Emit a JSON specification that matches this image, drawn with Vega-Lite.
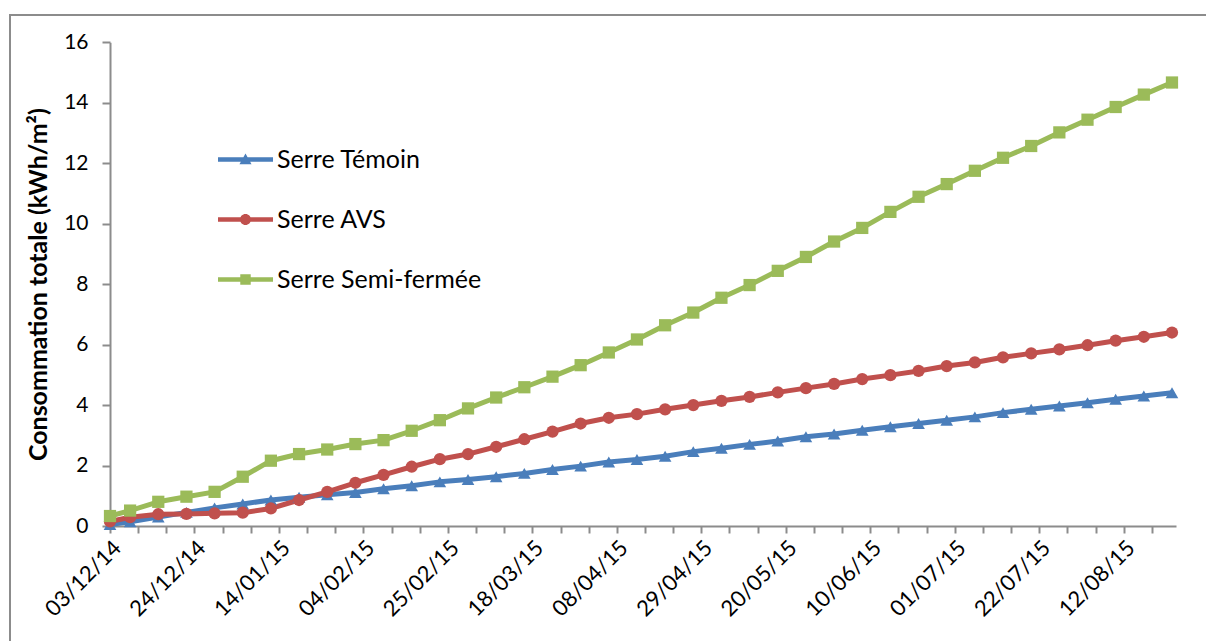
{
  "$schema": "https://vega.github.io/schema/vega-lite/v6.json",
  "autosize": {"type": "none"},
  "width": 1200,
  "height": 630,
  "padding": {"left": 10, "top": 15, "right": -4, "bottom": -4},
  "background": "white",
  "config": {
    "view": {"stroke": "#8c8c8c", "strokeWidth": 2},
    "font": "Lato"
  },
  "data": {"values": [
    {"date": "2014-12-03", "series": "Serre Témoin", "value": 0.05},
    {"date": "2014-12-08", "series": "Serre Témoin", "value": 0.14},
    {"date": "2014-12-15", "series": "Serre Témoin", "value": 0.30},
    {"date": "2014-12-22", "series": "Serre Témoin", "value": 0.45},
    {"date": "2014-12-29", "series": "Serre Témoin", "value": 0.60},
    {"date": "2015-01-05", "series": "Serre Témoin", "value": 0.73},
    {"date": "2015-01-12", "series": "Serre Témoin", "value": 0.86},
    {"date": "2015-01-19", "series": "Serre Témoin", "value": 0.95},
    {"date": "2015-01-26", "series": "Serre Témoin", "value": 1.03},
    {"date": "2015-02-02", "series": "Serre Témoin", "value": 1.11},
    {"date": "2015-02-09", "series": "Serre Témoin", "value": 1.23},
    {"date": "2015-02-16", "series": "Serre Témoin", "value": 1.33},
    {"date": "2015-02-23", "series": "Serre Témoin", "value": 1.46},
    {"date": "2015-03-02", "series": "Serre Témoin", "value": 1.54},
    {"date": "2015-03-09", "series": "Serre Témoin", "value": 1.63},
    {"date": "2015-03-16", "series": "Serre Témoin", "value": 1.74},
    {"date": "2015-03-23", "series": "Serre Témoin", "value": 1.87},
    {"date": "2015-03-30", "series": "Serre Témoin", "value": 1.98},
    {"date": "2015-04-06", "series": "Serre Témoin", "value": 2.12},
    {"date": "2015-04-13", "series": "Serre Témoin", "value": 2.20},
    {"date": "2015-04-20", "series": "Serre Témoin", "value": 2.31},
    {"date": "2015-04-27", "series": "Serre Témoin", "value": 2.46},
    {"date": "2015-05-04", "series": "Serre Témoin", "value": 2.57},
    {"date": "2015-05-11", "series": "Serre Témoin", "value": 2.70},
    {"date": "2015-05-18", "series": "Serre Témoin", "value": 2.81},
    {"date": "2015-05-25", "series": "Serre Témoin", "value": 2.95},
    {"date": "2015-06-01", "series": "Serre Témoin", "value": 3.04},
    {"date": "2015-06-08", "series": "Serre Témoin", "value": 3.17},
    {"date": "2015-06-15", "series": "Serre Témoin", "value": 3.28},
    {"date": "2015-06-22", "series": "Serre Témoin", "value": 3.39},
    {"date": "2015-06-29", "series": "Serre Témoin", "value": 3.50},
    {"date": "2015-07-06", "series": "Serre Témoin", "value": 3.61},
    {"date": "2015-07-13", "series": "Serre Témoin", "value": 3.75},
    {"date": "2015-07-20", "series": "Serre Témoin", "value": 3.86},
    {"date": "2015-07-27", "series": "Serre Témoin", "value": 3.97},
    {"date": "2015-08-03", "series": "Serre Témoin", "value": 4.08},
    {"date": "2015-08-10", "series": "Serre Témoin", "value": 4.19},
    {"date": "2015-08-17", "series": "Serre Témoin", "value": 4.30},
    {"date": "2015-08-24", "series": "Serre Témoin", "value": 4.41},
    {"date": "2014-12-03", "series": "Serre AVS", "value": 0.15},
    {"date": "2014-12-08", "series": "Serre AVS", "value": 0.29},
    {"date": "2014-12-15", "series": "Serre AVS", "value": 0.39},
    {"date": "2014-12-22", "series": "Serre AVS", "value": 0.40},
    {"date": "2014-12-29", "series": "Serre AVS", "value": 0.42},
    {"date": "2015-01-05", "series": "Serre AVS", "value": 0.44},
    {"date": "2015-01-12", "series": "Serre AVS", "value": 0.58},
    {"date": "2015-01-19", "series": "Serre AVS", "value": 0.86},
    {"date": "2015-01-26", "series": "Serre AVS", "value": 1.13},
    {"date": "2015-02-02", "series": "Serre AVS", "value": 1.43},
    {"date": "2015-02-09", "series": "Serre AVS", "value": 1.69},
    {"date": "2015-02-16", "series": "Serre AVS", "value": 1.96},
    {"date": "2015-02-23", "series": "Serre AVS", "value": 2.21},
    {"date": "2015-03-02", "series": "Serre AVS", "value": 2.38},
    {"date": "2015-03-09", "series": "Serre AVS", "value": 2.62},
    {"date": "2015-03-16", "series": "Serre AVS", "value": 2.87},
    {"date": "2015-03-23", "series": "Serre AVS", "value": 3.12},
    {"date": "2015-03-30", "series": "Serre AVS", "value": 3.39},
    {"date": "2015-04-06", "series": "Serre AVS", "value": 3.58},
    {"date": "2015-04-13", "series": "Serre AVS", "value": 3.70},
    {"date": "2015-04-20", "series": "Serre AVS", "value": 3.86},
    {"date": "2015-04-27", "series": "Serre AVS", "value": 4.00},
    {"date": "2015-05-04", "series": "Serre AVS", "value": 4.14},
    {"date": "2015-05-11", "series": "Serre AVS", "value": 4.27},
    {"date": "2015-05-18", "series": "Serre AVS", "value": 4.42},
    {"date": "2015-05-25", "series": "Serre AVS", "value": 4.56},
    {"date": "2015-06-01", "series": "Serre AVS", "value": 4.70},
    {"date": "2015-06-08", "series": "Serre AVS", "value": 4.86},
    {"date": "2015-06-15", "series": "Serre AVS", "value": 4.99},
    {"date": "2015-06-22", "series": "Serre AVS", "value": 5.13},
    {"date": "2015-06-29", "series": "Serre AVS", "value": 5.29},
    {"date": "2015-07-06", "series": "Serre AVS", "value": 5.41},
    {"date": "2015-07-13", "series": "Serre AVS", "value": 5.58},
    {"date": "2015-07-20", "series": "Serre AVS", "value": 5.71},
    {"date": "2015-07-27", "series": "Serre AVS", "value": 5.84},
    {"date": "2015-08-03", "series": "Serre AVS", "value": 5.98},
    {"date": "2015-08-10", "series": "Serre AVS", "value": 6.13},
    {"date": "2015-08-17", "series": "Serre AVS", "value": 6.26},
    {"date": "2015-08-24", "series": "Serre AVS", "value": 6.40},
    {"date": "2014-12-03", "series": "Serre Semi-fermée", "value": 0.33},
    {"date": "2014-12-08", "series": "Serre Semi-fermée", "value": 0.51},
    {"date": "2014-12-15", "series": "Serre Semi-fermée", "value": 0.80},
    {"date": "2014-12-22", "series": "Serre Semi-fermée", "value": 0.97},
    {"date": "2014-12-29", "series": "Serre Semi-fermée", "value": 1.13},
    {"date": "2015-01-05", "series": "Serre Semi-fermée", "value": 1.63},
    {"date": "2015-01-12", "series": "Serre Semi-fermée", "value": 2.16},
    {"date": "2015-01-19", "series": "Serre Semi-fermée", "value": 2.38},
    {"date": "2015-01-26", "series": "Serre Semi-fermée", "value": 2.53},
    {"date": "2015-02-02", "series": "Serre Semi-fermée", "value": 2.71},
    {"date": "2015-02-09", "series": "Serre Semi-fermée", "value": 2.84},
    {"date": "2015-02-16", "series": "Serre Semi-fermée", "value": 3.15},
    {"date": "2015-02-23", "series": "Serre Semi-fermée", "value": 3.50},
    {"date": "2015-03-02", "series": "Serre Semi-fermée", "value": 3.89},
    {"date": "2015-03-09", "series": "Serre Semi-fermée", "value": 4.25},
    {"date": "2015-03-16", "series": "Serre Semi-fermée", "value": 4.59},
    {"date": "2015-03-23", "series": "Serre Semi-fermée", "value": 4.94},
    {"date": "2015-03-30", "series": "Serre Semi-fermée", "value": 5.32},
    {"date": "2015-04-06", "series": "Serre Semi-fermée", "value": 5.74},
    {"date": "2015-04-13", "series": "Serre Semi-fermée", "value": 6.17},
    {"date": "2015-04-20", "series": "Serre Semi-fermée", "value": 6.64},
    {"date": "2015-04-27", "series": "Serre Semi-fermée", "value": 7.06},
    {"date": "2015-05-04", "series": "Serre Semi-fermée", "value": 7.55},
    {"date": "2015-05-11", "series": "Serre Semi-fermée", "value": 7.97},
    {"date": "2015-05-18", "series": "Serre Semi-fermée", "value": 8.44},
    {"date": "2015-05-25", "series": "Serre Semi-fermée", "value": 8.90},
    {"date": "2015-06-01", "series": "Serre Semi-fermée", "value": 9.41},
    {"date": "2015-06-08", "series": "Serre Semi-fermée", "value": 9.86},
    {"date": "2015-06-15", "series": "Serre Semi-fermée", "value": 10.39},
    {"date": "2015-06-22", "series": "Serre Semi-fermée", "value": 10.89},
    {"date": "2015-06-29", "series": "Serre Semi-fermée", "value": 11.31},
    {"date": "2015-07-06", "series": "Serre Semi-fermée", "value": 11.75},
    {"date": "2015-07-13", "series": "Serre Semi-fermée", "value": 12.18},
    {"date": "2015-07-20", "series": "Serre Semi-fermée", "value": 12.57},
    {"date": "2015-07-27", "series": "Serre Semi-fermée", "value": 13.02},
    {"date": "2015-08-03", "series": "Serre Semi-fermée", "value": 13.44},
    {"date": "2015-08-10", "series": "Serre Semi-fermée", "value": 13.86},
    {"date": "2015-08-17", "series": "Serre Semi-fermée", "value": 14.27},
    {"date": "2015-08-24", "series": "Serre Semi-fermée", "value": 14.67}
  ]},
  "encoding": {
    "x": {
      "field": "date",
      "type": "temporal",
      "scale": {
        "type": "utc",
        "domain": [{"year": 2014, "month": 12, "date": 3, "utc": true}, {"year": 2015, "month": 8, "date": 25, "utc": true}],
        "range": [100, 1166],
        "nice": false
      },
      "axis": {
        "title": null,
        "grid": false,
        "offset": -119,
        "values": [
          {"year": 2014, "month": 12, "date": 3, "utc": true},
          {"year": 2014, "month": 12, "date": 10, "utc": true},
          {"year": 2014, "month": 12, "date": 17, "utc": true},
          {"year": 2014, "month": 12, "date": 24, "utc": true},
          {"year": 2014, "month": 12, "date": 31, "utc": true},
          {"year": 2015, "month": 1, "date": 7, "utc": true},
          {"year": 2015, "month": 1, "date": 14, "utc": true},
          {"year": 2015, "month": 1, "date": 21, "utc": true},
          {"year": 2015, "month": 1, "date": 28, "utc": true},
          {"year": 2015, "month": 2, "date": 4, "utc": true},
          {"year": 2015, "month": 2, "date": 11, "utc": true},
          {"year": 2015, "month": 2, "date": 18, "utc": true},
          {"year": 2015, "month": 2, "date": 25, "utc": true},
          {"year": 2015, "month": 3, "date": 4, "utc": true},
          {"year": 2015, "month": 3, "date": 11, "utc": true},
          {"year": 2015, "month": 3, "date": 18, "utc": true},
          {"year": 2015, "month": 3, "date": 25, "utc": true},
          {"year": 2015, "month": 4, "date": 1, "utc": true},
          {"year": 2015, "month": 4, "date": 8, "utc": true},
          {"year": 2015, "month": 4, "date": 15, "utc": true},
          {"year": 2015, "month": 4, "date": 22, "utc": true},
          {"year": 2015, "month": 4, "date": 29, "utc": true},
          {"year": 2015, "month": 5, "date": 6, "utc": true},
          {"year": 2015, "month": 5, "date": 13, "utc": true},
          {"year": 2015, "month": 5, "date": 20, "utc": true},
          {"year": 2015, "month": 5, "date": 27, "utc": true},
          {"year": 2015, "month": 6, "date": 3, "utc": true},
          {"year": 2015, "month": 6, "date": 10, "utc": true},
          {"year": 2015, "month": 6, "date": 17, "utc": true},
          {"year": 2015, "month": 6, "date": 24, "utc": true},
          {"year": 2015, "month": 7, "date": 1, "utc": true},
          {"year": 2015, "month": 7, "date": 8, "utc": true},
          {"year": 2015, "month": 7, "date": 15, "utc": true},
          {"year": 2015, "month": 7, "date": 22, "utc": true},
          {"year": 2015, "month": 7, "date": 29, "utc": true},
          {"year": 2015, "month": 8, "date": 5, "utc": true},
          {"year": 2015, "month": 8, "date": 12, "utc": true},
          {"year": 2015, "month": 8, "date": 19, "utc": true}
        ],
        "labelExpr": "round((datum.value - utc(2014, 11, 3)) / 604800000) % 3 == 0 ? utcFormat(datum.value, '%d/%m/%y') : ''",
        "labelOverlap": false,
        "labelAngle": -45,
        "labelFont": "Lato",
        "labelFontSize": 22,
        "labelColor": "#000000",
        "labelPadding": 4,
        "domainColor": "#8c8c8c",
        "domainWidth": 2,
        "tickColor": "#8c8c8c",
        "tickWidth": 2,
        "tickSize": 7
      }
    },
    "y": {
      "field": "value",
      "type": "quantitative",
      "scale": {"domain": [0, 16], "range": [511, 27.3], "nice": false},
      "axis": {
        "title": "Consommation totale (kWh/m²)",
        "titleFont": "Lato",
        "titleFontSize": 25,
        "titleFontWeight": "bold",
        "titleColor": "#000000",
        "titlePadding": 12,
        "grid": false,
        "offset": -100,
        "values": [0, 2, 4, 6, 8, 10, 12, 14, 16],
        "labelFont": "Lato",
        "labelFontSize": 21,
        "labelColor": "#000000",
        "labelPadding": 14,
        "domainColor": "#8c8c8c",
        "domainWidth": 2,
        "tickColor": "#8c8c8c",
        "tickWidth": 2,
        "tickSize": 8
      }
    },
    "color": {
      "field": "series",
      "type": "nominal",
      "scale": {
        "domain": ["Serre Témoin", "Serre AVS", "Serre Semi-fermée"],
        "range": ["#4a7ebb", "#c0504d", "#9bbb59"]
      },
      "legend": {
        "title": null,
        "orient": "none",
        "legendX": 208,
        "legendY": 117,
        "padding": 0,
        "symbolSize": 3025,
        "symbolStrokeWidth": 0,
        "symbolOpacity": 1,
        "labelFont": "Lato",
        "labelFontSize": 25,
        "labelLimit": 0,
        "labelColor": "#000000",
        "labelOffset": 4,
        "rowPadding": 19
      }
    }
  },
  "layer": [
    {
      "mark": {"type": "line", "strokeWidth": 5, "strokeJoin": "round", "strokeCap": "round"}
    },
    {
      "transform": [{"filter": "datum.series === 'Serre Témoin'"}],
      "mark": {"type": "point", "shape": "triangle-up", "filled": true, "opacity": 1, "size": 160, "strokeWidth": 0}
    },
    {
      "transform": [{"filter": "datum.series === 'Serre AVS'"}],
      "mark": {"type": "point", "shape": "circle", "filled": true, "opacity": 1, "size": 150, "strokeWidth": 0}
    },
    {
      "transform": [{"filter": "datum.series === 'Serre Semi-fermée'"}],
      "mark": {"type": "point", "shape": "square", "filled": true, "opacity": 1, "size": 150, "strokeWidth": 0}
    },
    {
      "transform": [{"filter": "false"}],
      "mark": {"type": "point", "filled": true, "opacity": 1, "strokeWidth": 0},
      "encoding": {
        "shape": {
          "field": "series",
          "type": "nominal",
          "scale": {
            "domain": ["Serre Témoin", "Serre AVS", "Serre Semi-fermée"],
            "range": [
              "M-1,-0.08H1V0.08H-1Z M0,-0.22L0.22,0.17H-0.22Z",
              "M-1,-0.08H1V0.08H-1Z M-0.2,0A0.2,0.2 0 1,1 0.2,0A0.2,0.2 0 1,1 -0.2,0Z",
              "M-1,-0.08H1V0.08H-1Z M-0.19,-0.19H0.19V0.19H-0.19Z"
            ]
          },
          "legend": {
            "title": null,
            "orient": "none",
            "legendX": 208,
            "legendY": 117,
            "padding": 0,
            "symbolSize": 3025,
            "symbolStrokeWidth": 0,
            "symbolOpacity": 1,
            "labelFont": "Lato",
            "labelFontSize": 25,
            "labelLimit": 0,
            "labelColor": "#000000",
            "labelOffset": 4,
            "rowPadding": 19
          }
        }
      }
    }
  ]
}
